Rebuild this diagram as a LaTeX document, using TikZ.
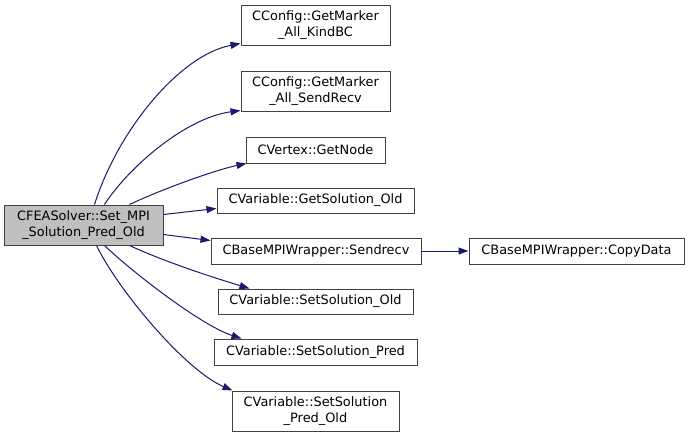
\documentclass[tikz,border=0pt]{standalone}
\usepackage{fontspec}
\setmainfont{DejaVu Sans}
\usetikzlibrary{arrows.meta}
\definecolor{edgeblue}{HTML}{191970}
\definecolor{boxline}{HTML}{404040}
\definecolor{mainfill}{HTML}{BFBFBF}
\begin{document}
\begin{tikzpicture}[x=1pt,y=-1pt,
  fn/.style={draw=boxline, line width=1pt, inner sep=0pt, align=center,
    font=\fontsize{12.9}{15.5}\selectfont, fill=white},
  call/.style={draw=edgeblue, line width=1pt,
    -{Triangle[length=10pt,width=7pt]}, edgeblue}]
\useasboundingbox (0,0) rectangle (689,437);
\fill[white] (0,0) rectangle (689,437);

\node[fn, fill=mainfill, minimum width=159pt, minimum height=40pt] (main) at (83.5,225) {CFEASolver::Set\_MPI\\\_Solution\_Pred\_Old};

\node[fn, minimum width=149pt, minimum height=40pt] (kind) at (315.5,25) {CConfig::GetMarker\\\_All\_KindBC};
\node[fn, minimum width=149pt, minimum height=40pt] (cfgsr) at (315.5,91) {CConfig::GetMarker\\\_All\_SendRecv};
\node[fn, minimum width=139pt, minimum height=26pt] (getnode) at (315.5,150) {CVertex::GetNode};
\node[fn, minimum width=197pt, minimum height=25pt] (getsol) at (315.5,200.5) {CVariable::GetSolution\_Old};
\node[fn, minimum width=210pt, minimum height=26pt] (sendrecv) at (316,251) {CBaseMPIWrapper::Sendrecv};
\node[fn, minimum width=215pt, minimum height=26pt] (copy) at (576.5,251) {CBaseMPIWrapper::CopyData};
\node[fn, minimum width=195pt, minimum height=25pt] (setold) at (315.5,301.5) {CVariable::SetSolution\_Old};
\node[fn, minimum width=203pt, minimum height=26pt] (setpred) at (315.5,352) {CVariable::SetSolution\_Pred};
\node[fn, minimum width=167pt, minimum height=40pt] (predold) at (315.5,411) {CVariable::SetSolution\\\_Pred\_Old};

\draw[call] ([xshift=91pt]main.north west) .. controls (118,130) and (180,55) .. ([yshift=2pt]kind.south west);
\draw[call] ([xshift=101pt]main.north west) .. controls (128,168) and (185,118) .. ([yshift=1pt]cfgsr.south west);
\draw[call] ([xshift=126pt]main.north west) .. controls (160,190) and (215,170) .. ([xshift=1pt]getnode.south west);
\draw[call] ([yshift=-10pt]main.north east) -- ([yshift=5pt]getsol.south west);
\draw[call] ([yshift=11pt]main.south east) -- ([yshift=-3pt]sendrecv.north west);
\draw[call] (sendrecv) -- (copy);
\draw[call] ([xshift=126pt]main.south west) .. controls (165,262) and (215,278) .. ([xshift=32pt]setold.north west);
\draw[call] ([xshift=101pt]main.south west) .. controls (130,270) and (200,325) .. ([xshift=28pt]setpred.north west);
\draw[call] ([xshift=93pt]main.south west) .. controls (118,290) and (185,370) .. ([xshift=1pt]predold.north west);
\end{tikzpicture}
\end{document}
